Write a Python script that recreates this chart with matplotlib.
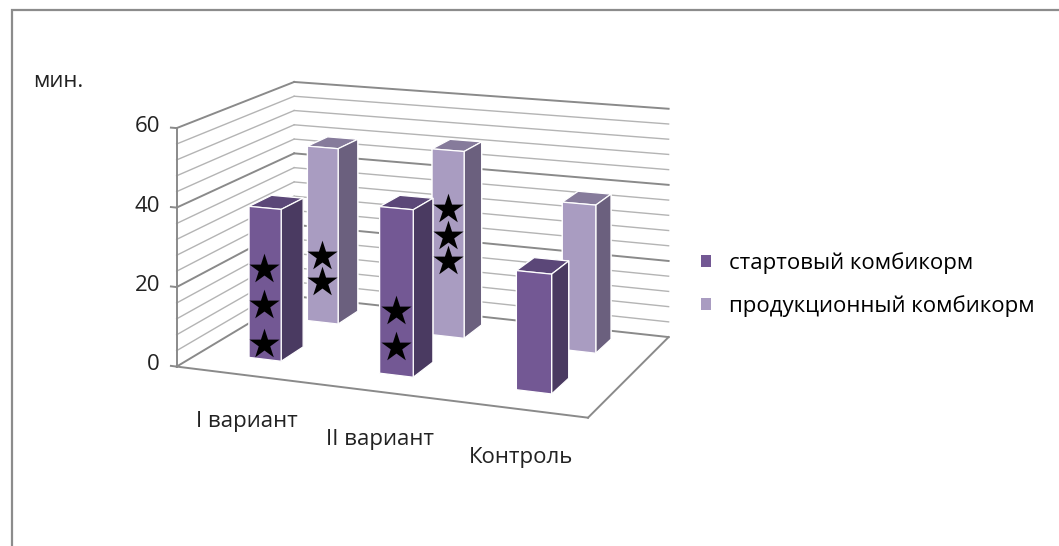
import matplotlib
matplotlib.use("Agg")
import matplotlib.pyplot as plt
from matplotlib.patches import Patch, Rectangle
from mpl_toolkits.mplot3d import proj3d

plt.rcParams["font.family"] = ["Open Sans", "DejaVu Sans"]

# данные: время (мин.) по вариантам кормления
categories = ["I вариант", "II вариант", "Контроль"]
series_names = ["стартовый комбикорм", "продукционный комбикорм"]
start_vals = [38.5, 41.5, 29.0]
prod_vals = [47.0, 49.0, 38.0]

# уровни (мин.), на которых стоят звёздочки достоверности
start_stars = [[4, 14, 23], [7, 16], []]
prod_stars = [[11, 18], [20, 26.5, 33.5], []]

z_major = [0, 20, 40, 60]
z_step = 4

START = dict(front="#735894", side="#4a3a61", top="#5b4778")
PROD = dict(front="#a99cc1", side="#6b607e", top="#867b9b")
GRID_MAJOR = "#8a8a8a"
GRID_MINOR = "#b4b4b4"

X0, X1 = 0.0, 3.0
Y0, Y1 = 0.0, 2.0
ZMAX = z_major[-1]
BAR_W = 0.25
BAR_D = 0.38
ROWS = [0.58, 1.6]   # глубина рядов: стартовый спереди, продукционный сзади

# камера смотрит горизонтально с высоты середины "коробки",
# поэтому коробка выше самой диаграммы (вертикали остаются вертикальными)
Z_BOX = 348
PX_PER_MIN = 4.0
BOX = (433, 281, PX_PER_MIN * Z_BOX)
SIDE = 1600  # сторона квадратной 3D-области, px


def faces(c):
    # порядок граней bar3d: -z, +z, -y, +y, -x, +x
    return [c["top"], c["top"], c["front"], c["side"], c["side"], c["side"]]


fig = plt.figure(figsize=(10.59, 5.46), dpi=100)
fig.patch.set_facecolor("white")

ax = fig.add_axes([-0.3717, 0.0905, SIDE / 1059, SIDE / 546], projection="3d",
                  computed_zorder=False)
ax.patch.set_alpha(0)
ax.set_proj_type("persp", focal_length=0.265)
ax.view_init(elev=0, azim=-68.5)
ax.set_box_aspect(BOX, zoom=0.8756)
ax.set_xlim(X0, X1)
ax.set_ylim(Y0, Y1)
ax.set_zlim(0, Z_BOX)
ax.set_axis_off()


def label3d(x, y, z, s, **kw):
    # подпись в плоскости экрана, привязанная к точке сцены
    px, py, _ = proj3d.proj_transform(x, y, z, ax.get_proj())
    ax.text2D(px, py, s, transform=ax.transData, fontsize=16,
              color="#222222", **kw)


# задняя и боковая стенки с сеткой
for z in range(0, ZMAX + 1, z_step):
    major = z % 20 == 0
    col = GRID_MAJOR if major else GRID_MINOR
    lw = 1.4 if major else 1.0
    ax.plot([X0, X1], [Y1, Y1], [z, z], color=col, lw=lw, zorder=1)
    ax.plot([X0, X0], [Y0, Y1], [z, z], color=col, lw=lw, zorder=1)

# пол
ax.plot([X0, X1], [Y0, Y0], [0, 0], color=GRID_MAJOR, lw=1.4, zorder=1)
ax.plot([X1, X1], [Y0, Y1], [0, 0], color=GRID_MAJOR, lw=1.4, zorder=1)

# ось значений
ax.plot([X0, X0], [Y0, Y0], [0, ZMAX], color=GRID_MAJOR, lw=1.4, zorder=2)
for z in z_major:
    ax.plot([X0 - 0.045, X0], [Y0, Y0], [z, z], color=GRID_MAJOR, lw=1.4, zorder=2)
    label3d(X0 - 0.13, Y0, z, str(z), ha="right", va="center")

# подписи категорий
for i, name in enumerate(categories):
    label3d(i + 0.54, Y0, -11.5, name, ha="center", va="center")

# столбцы: сначала дальний ряд, затем ближний
order = [(prod_vals, PROD, ROWS[1], prod_stars, 3),
         (start_vals, START, ROWS[0], start_stars, 4)]
for vals, style, row, stars, zo in order:
    for i, v in enumerate(vals):
        cx = i + 0.5
        ax.bar3d(cx - BAR_W / 2, row - BAR_D / 2, 0, BAR_W, BAR_D, v,
                 color=faces(style), shade=False, edgecolor="white",
                 linewidth=0.9, zorder=zo)
    for i, zs in enumerate(stars):
        if not zs:
            continue
        cx = i + 0.5
        ax.scatter([cx] * len(zs), [row - BAR_D / 2 - 0.01] * len(zs), zs,
                   marker="*", s=520, c="black", depthshade=False,
                   linewidths=0, zorder=6)

# легенда
handles = [Patch(facecolor=START["front"], edgecolor="none"),
           Patch(facecolor=PROD["front"], edgecolor="none")]
fig.legend(handles, series_names, loc="center left",
           bbox_to_anchor=(0.662, 0.479), frameon=False, fontsize=16,
           handlelength=0.45, handleheight=0.45, handletextpad=0.8,
           labelspacing=0.95, borderpad=0, borderaxespad=0)

fig.text(0.031, 0.85, "мин.", fontsize=16, va="center", color="#222222")

# рамка области диаграммы
fig.add_artist(Rectangle((0.0113, -0.05), 1.1, 0.05 + 1 - 0.0183,
                         transform=fig.transFigure, fill=False,
                         edgecolor="#8c8c8c", lw=1.6))

fig.savefig("out.png", dpi=100, facecolor="white")
